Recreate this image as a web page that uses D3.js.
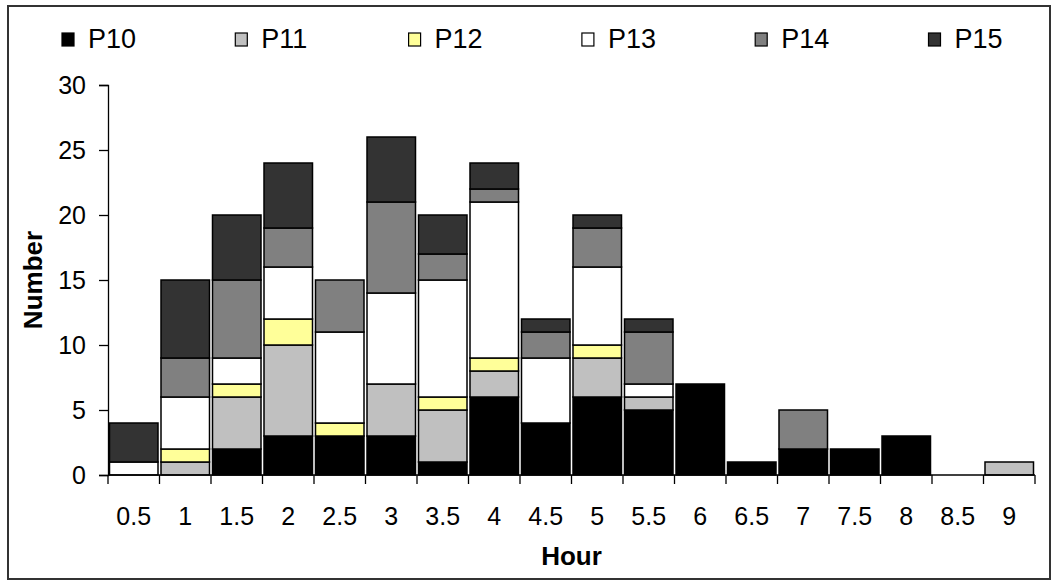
<!DOCTYPE html>
<html>
<head>
<meta charset="utf-8">
<script src="https://cdn.jsdelivr.net/npm/d3@7"></script>
<style>
 body { margin: 0; background: #fff; }
 text { font-family: Arial, "Liberation Sans", sans-serif; }
</style>
</head>
<body>
<div id="chart-area"></div>
<script>
// categories (hours) and the stacked series
var hours = ["0.5","1","1.5","2","2.5","3","3.5","4","4.5","5","5.5","6","6.5","7","7.5","8","8.5","9"];
var seriesNames = ["P10","P11","P12","P13","P14","P15"];
var P10 = [0,0,2,3,3,3,1,6,4,6,5,7,1,2,2,3,0,0];
var P11 = [0,1,4,7,0,4,4,2,0,3,1,0,0,0,0,0,0,1];
var P12 = [0,1,1,2,1,0,1,1,0,1,0,0,0,0,0,0,0,0];
var P13 = [1,4,2,4,7,7,9,12,5,6,1,0,0,0,0,0,0,0];
var P14 = [0,3,6,3,4,7,2,1,2,3,4,0,0,3,0,0,0,0];
var P15 = [3,6,5,5,0,5,3,2,1,1,1,0,0,0,0,0,0,0];
var yTicks = [0,5,10,15,20,25,30];
var colors = ["#000000","#c0c0c0","#ffff99","#ffffff","#808080","#333333"];

var W = 1056, H = 581;
var margin = {top: 85, right: 21, bottom: 106, left: 108},
 width = W - margin.left - margin.right,
 height = H - margin.top - margin.bottom;

var svg = d3.select("#chart-area")
 .append("svg")
 .attr("width", W)
 .attr("height", H);

// outer frame
svg.append("rect")
 .attr("x", 8).attr("y", 6)
 .attr("width", 1042).attr("height", 573)
 .attr("fill", "none")
 .attr("stroke", "#333")
 .attr("stroke-width", 2);

var g = svg.append("g")
 .attr("transform", `translate(${margin.left}, ${margin.top})`);

// build table for the stack
var table = hours.map((h, i) => ({
 hour: h, P10: P10[i], P11: P11[i], P12: P12[i], P13: P13[i], P14: P14[i], P15: P15[i]
}));
var stacked = d3.stack().keys(seriesNames)(table);

var x = d3.scaleBand()
 .domain(hours)
 .range([0, width])
 .padding(0);

var y = d3.scaleLinear()
 .domain([0, 30])
 .range([height, 0]);

var color = d3.scaleOrdinal().domain(seriesNames).range(colors);

// bars
g.append("g")
 .selectAll("g")
 .data(stacked)
 .enter()
 .append("g")
  .attr("fill", d => color(d.key))
 .selectAll("rect")
 .data(d => d.filter(s => s[1] - s[0] > 0))
 .enter()
 .append("rect")
  .attr("x", d => x(d.data.hour) + 1.5)
  .attr("width", x.bandwidth() - 3)
  .attr("y", d => y(d[1]))
  .attr("height", d => y(d[0]) - y(d[1]))
  .attr("stroke", "#000")
  .attr("stroke-width", 1.5);

// y axis
var yAxis = d3.axisLeft(y)
 .tickValues(yTicks)
 .tickSize(9)
 .tickPadding(13);
var yG = g.append("g").call(yAxis);
yG.select(".domain").attr("stroke", "#000").attr("stroke-width", 1.3);
yG.selectAll(".tick line").attr("stroke", "#000").attr("stroke-width", 1.3);
yG.selectAll("text").attr("font-size", "25px").attr("fill", "#000")
 .style("font-family", "Arial, 'Liberation Sans', sans-serif");

// x axis: ticks between categories
var xAxisG = g.append("g").attr("transform", `translate(0, ${height})`);
xAxisG.append("line")
 .attr("x1", 0).attr("x2", width)
 .attr("stroke", "#000").attr("stroke-width", 1.3);
xAxisG.selectAll(".xtick")
 .data(hours.concat(["end"]))
 .enter()
 .append("line")
  .attr("x1", (d, i) => i < hours.length ? x(d) : width)
  .attr("x2", (d, i) => i < hours.length ? x(d) : width)
  .attr("y1", 0).attr("y2", 9)
  .attr("stroke", "#000").attr("stroke-width", 1.3);
xAxisG.selectAll(".xlab")
 .data(hours)
 .enter()
 .append("text")
  .attr("x", d => x(d) + x.bandwidth() / 2)
  .attr("y", 50)
  .attr("text-anchor", "middle")
  .attr("font-size", "25px")
  .text(d => d);

// axis titles
svg.append("text")
 .attr("x", margin.left + width / 2)
 .attr("y", 565)
 .attr("text-anchor", "middle")
 .attr("font-weight", "bold")
 .attr("font-size", "26px")
 .text("Hour");

svg.append("text")
 .attr("transform", `translate(42, ${margin.top + height / 2}) rotate(-90)`)
 .attr("text-anchor", "middle")
 .attr("font-weight", "bold")
 .attr("font-size", "26px")
 .text("Number");

// legend
var legend = svg.append("g")
 .selectAll("g")
 .data(seriesNames)
 .enter()
 .append("g")
  .attr("transform", (d, i) => `translate(${62 + i * 173.3}, 0)`);
legend.append("rect")
 .attr("x", 0).attr("y", 33)
 .attr("width", 12).attr("height", 13)
 .attr("fill", d => color(d))
 .attr("stroke", "#000")
 .attr("stroke-width", 1.2);
legend.append("text")
 .attr("x", 26)
 .attr("y", 47.5)
 .attr("font-size", "27px")
 .text(d => d);
</script>
</body>
</html>
